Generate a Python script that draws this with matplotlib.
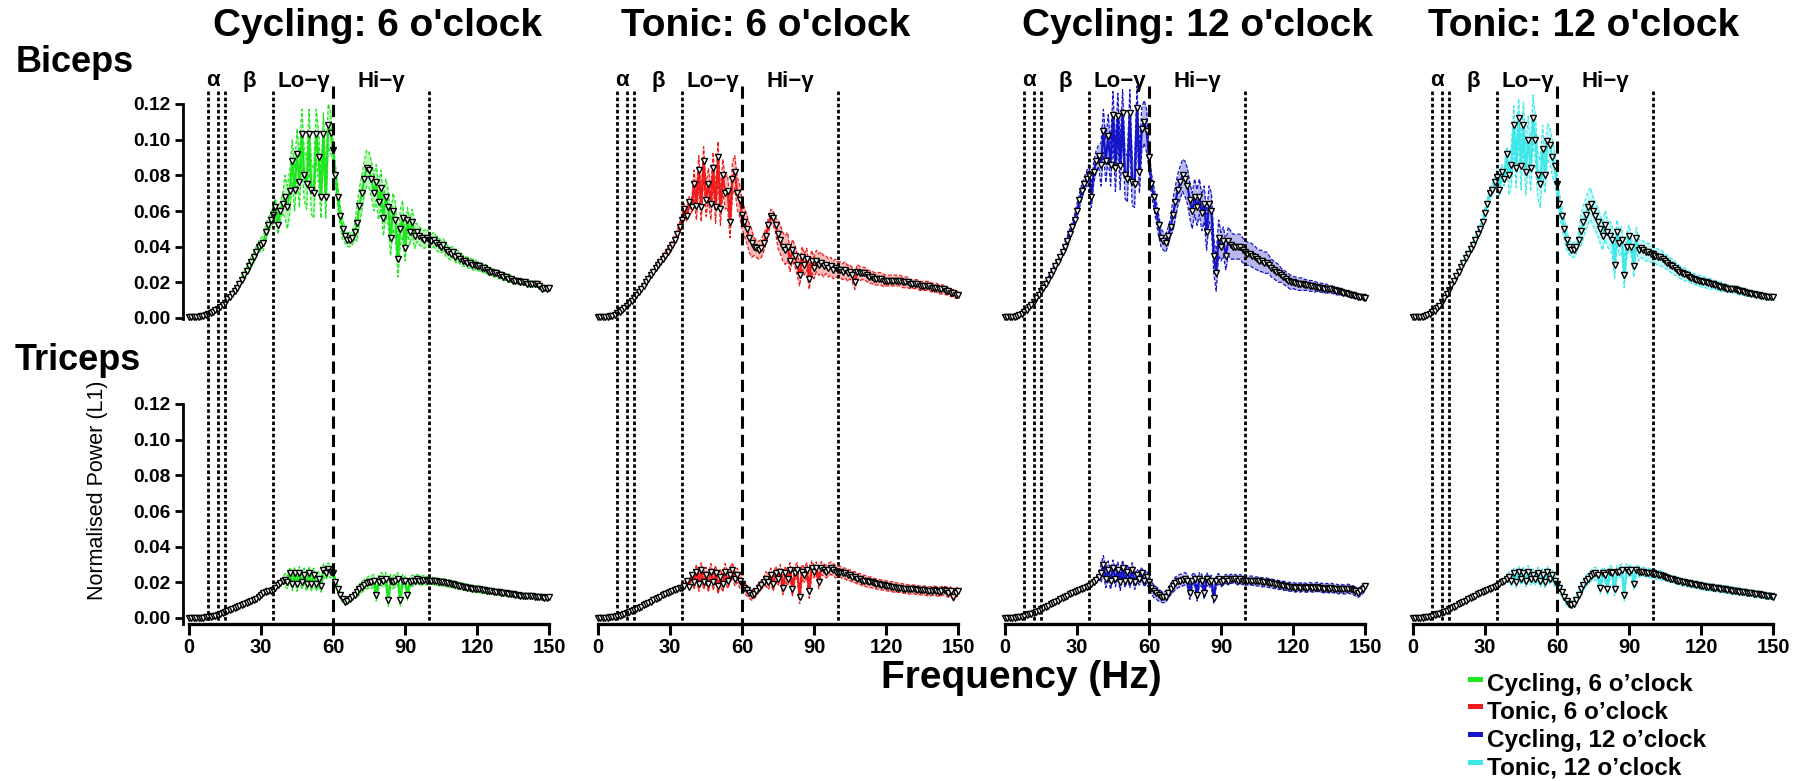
import numpy as np
import matplotlib
matplotlib.use("Agg")
import matplotlib.pyplot as plt
from matplotlib.lines import Line2D
from matplotlib.patches import Rectangle
from matplotlib.transforms import blended_transform_factory

plt.rcParams['font.family'] = ['Liberation Sans', 'DejaVu Sans']

# ---------------------------------------------------------------- data
freq_hz = np.arange(0, 151)          # 1 Hz bins, 0..150 Hz

conditions = ["Cycling: 6 o'clock", "Tonic: 6 o'clock",
              "Cycling: 12 o'clock", "Tonic: 12 o'clock"]
legend_labels = ["Cycling, 6 o\u2019clock", "Tonic, 6 o\u2019clock",
                 "Cycling, 12 o\u2019clock", "Tonic, 12 o\u2019clock"]
muscles = ["Biceps", "Triceps"]
colors = ['#1ee61e', '#ee1c1c', '#1515c8', '#3ee8e8']

band_lines_dotted = [8, 12, 15, 35, 100]
band_lines_dashed = [60]
band_names = ["\u03b1", "\u03b2", "Lo\u2212\u03b3", "Hi\u2212\u03b3"]
band_name_pos = [10, 25, 48, 80]

x_ticks = [0, 30, 60, 90, 120, 150]
y_ticks = [0.00, 0.02, 0.04, 0.06, 0.08, 0.10, 0.12]

# mean normalised power, x1e-3, one value per Hz (0..150)
biceps_cyc6 = [
    0.5, 0.5, 0.5, 0.6, 0.7, 0.9,
    1.2, 1.6, 2.2, 2.8, 3.5,   4.3, 5.2, 6.2, 7.3, 8.5,
    10.5, 12, 13.5, 15, 16.8,  19, 21.5, 24, 26.5, 29,
    31.5, 34, 37, 40, 41,      42, 48, 52, 55, 58,
    62, 52, 60, 64, 68,        62, 71, 88, 72, 92,
    76, 103, 80, 75, 103,      72, 70, 103, 90, 68,
    103, 68, 108, 104, 94,     80, 68, 57, 50, 46,
    44, 44, 45, 48, 53,        63, 70, 78, 84, 83,
    78, 70, 76, 65, 73,        56, 68, 62, 45, 60,
    55, 33, 50, 56, 39,        55, 48, 54, 46, 48,
    46, 45, 44, 45, 44,        43, 44, 42, 41, 40,
    41, 38, 37, 36, 37,        34, 35, 33, 32, 32,
    31, 31, 30, 30, 29,        29, 28, 28, 27, 26,
    26, 25, 25, 24, 24,        23, 23, 22, 22, 21,
    21, 21, 20, 20, 20,        19, 19, 19, 19, 19,
    18, 16, 17, 16, 17]
biceps_ton6 = [
    0.4, 0.4, 0.5, 0.6, 0.8, 1.0,
    1.4, 1.9, 2.6, 3.4, 4.4,   5.5, 6.8, 8.2, 9.8, 11.4,
    13, 14.7, 16.4, 18.2, 20,  22, 24, 26, 28, 30,
    31.5, 33, 35, 37, 39,      41, 44, 47, 51, 55,
    61, 57, 65, 62, 75,        63, 83, 62, 88, 66,
    75, 64, 84, 62, 90,        61, 80, 70, 71, 54,
    78, 82, 70, 66, 58,        54, 50, 45, 42, 40,
    39, 38, 39, 42, 46,        52, 57, 56, 52, 47,
    44, 40, 38, 40, 32,        38, 35, 30, 24, 34,
    30, 33, 22, 32, 28,        32, 30, 31, 29, 30,
    28, 29, 27, 28, 27,        27, 26, 27, 25, 26,
    24, 20, 26, 25, 25,        25, 24, 23, 23, 22,
    22, 22, 22, 21, 21,        21, 21, 21, 21, 21,
    21, 20, 20, 20, 19,        19, 19, 19, 18, 18,
    18, 18, 18, 17, 17,        17, 16, 16, 16, 15,
    15, 14, 14, 13, 13]
biceps_cyc12 = [
    0.3, 0.3, 0.4, 0.5, 0.7, 1.0,
    1.5, 2.2, 3.2, 4.5, 6,     7.5, 9, 11, 13, 15,
    17, 19, 21.5, 24, 26.5,    29, 31.5, 34, 37, 40,
    43, 47, 51, 55, 60,        66, 71, 75, 78, 80,
    68, 82, 88, 91, 86,        105, 88, 102, 86, 114,
    84, 113, 85, 115, 80,      78, 115, 76, 75, 118,
    82, 106, 110, 105, 90,     75, 68, 60, 52, 45,
    43, 42, 46, 51, 58,        65, 72, 76, 80, 78,
    74, 66, 60, 68, 62,        68, 59, 64, 48, 64,
    60, 35, 25, 45, 40,        43, 35, 43, 41, 40,
    40, 40, 40, 38, 37,        36, 36, 35, 34, 33,
    32, 32, 31, 31, 30,        28, 27, 26, 25, 24,
    23, 22, 21, 20, 20,        19.5, 19, 19, 19, 18.5,
    18.5, 18, 18, 17.5, 17.5,  17, 17, 16.5, 16.5, 16,
    16, 15.5, 15, 15, 14.5,    14, 14, 13.5, 13, 13,
    12.5, 12, 12, 11.5, 11]
biceps_ton12 = [
    0.3, 0.3, 0.4, 0.5, 0.7, 1.0,
    1.5, 2.2, 3.1, 4.2, 5.5,   7, 8.8, 11, 13.3, 15.8,
    18.5, 21, 23.5, 26, 28.5,  31, 33.5, 36, 38.5, 41,
    44, 47, 50, 54, 59,        64, 70, 72, 76, 79,
    72, 82, 78, 92, 80,        86, 108, 84, 112, 85,
    108, 82, 100, 84, 112,     100, 80, 75, 95, 80,
    99, 97, 90, 85, 75,        64, 57, 50, 44, 40,
    38, 38, 40, 44, 49,        54, 58, 62, 64, 60,
    57, 54, 50, 46, 52,        48, 46, 44, 30, 48,
    42, 44, 24, 40, 46,        40, 29, 45, 38, 39,
    38, 37, 37, 36, 36,        35, 34, 34, 33, 32,
    31, 30, 29, 28, 27,        26, 25, 24.5, 24, 23,
    22.5, 22, 21.5, 21, 20.5,  20, 20, 19.5, 19, 19,
    18.5, 18, 17.5, 17.5, 17,  16.5, 16.5, 16, 16, 15.5,
    15, 15, 14.5, 14, 14,      13.5, 13.5, 13, 13, 12.5,
    12.5, 12, 12, 11.5, 11.5]

triceps_cyc6 = [
    0, 0, 0, 0, 0.1, 0.1,
    0.2, 0.3, 0.5, 0.7, 1.0,   1.3, 1.7, 2.2, 2.7, 3.3,
    3.9, 4.5, 5.1, 5.7, 6.2,   6.8, 7.3, 7.8, 8.3, 8.9,
    9.5, 10, 10.8, 11.8, 12.8, 14, 14.6, 15, 15.3, 15.8,
    17, 18.5, 19.5, 21, 21.5,  20, 25, 19, 25, 19,
    25, 20, 24, 19, 25,        19, 24, 19, 22, 18,
    27, 25, 27.5, 26, 25,      20, 16.5, 13, 10.5, 9,
    9.5, 10.5, 11.5, 13, 14.5, 16, 17.5, 18.5, 19.5, 20,
    20, 21, 13, 20, 22,        21, 22, 10, 21, 20,
    21, 22, 10, 21, 21,        13, 20, 21, 21, 22,
    21, 21, 21.5, 21, 21,      21, 20.5, 20.5, 20, 20,
    20, 19.5, 19.5, 19, 19,    18.5, 18, 18, 17.5, 17.5,
    17, 17, 16.5, 16.5, 16,    16, 15.8, 15.6, 15.4, 15.2,
    15, 14.8, 14.6, 14.4, 14.2, 14, 13.8, 13.6, 13.4, 13.2,
    13, 12.8, 12.6, 12.5, 12.4, 12.3, 12.2, 12.1, 12, 11.9,
    11.8, 11.6, 11.4, 11.3, 11.5]
triceps_ton6 = [
    0, 0, 0.1, 0.1, 0.2, 0.3,
    0.5, 0.7, 1.0, 1.3, 1.7,   2.1, 2.6, 3.1, 3.7, 4.3,
    5, 5.7, 6.4, 7.1, 7.8,     8.5, 9.2, 9.9, 10.6, 11.3,
    12, 12.7, 13.4, 14.1, 14.8, 15.4, 15.8, 16.2, 16.6, 17,
    18, 21, 17.5, 24, 20,      26, 19, 27, 20, 24,
    19, 26, 20, 25, 18,        23, 19, 26, 21, 24,
    27, 22, 24, 21, 19,        17, 15.5, 14, 13, 13.5,
    15, 17, 18.5, 20, 22,      20, 24, 19, 25, 22,
    26, 17, 25, 22, 27,        16, 25, 27, 12, 26,
    24, 27, 15, 28, 26,        28, 20, 28, 27, 26,
    27, 28, 27, 26, 26,        26, 25, 25, 24, 24,
    23, 23, 22, 22, 21,        21, 20.5, 20, 20, 19.5,
    19, 19, 18.5, 18.5, 18,    18, 17.5, 17.5, 17, 17,
    17, 16.5, 16.5, 16, 16,    16, 16, 15.5, 15.5, 15.5,
    15.5, 15, 15, 15, 15.5,    15, 14.5, 15, 15.5, 15,
    14, 15, 12, 14, 15]
triceps_cyc12 = [
    0, 0, 0.1, 0.1, 0.2, 0.3,
    0.5, 0.8, 1.1, 1.5, 2,     2.5, 3, 3.6, 4.2, 4.9,
    5.6, 6.3, 7, 7.7, 8.4,     9.1, 9.8, 10.5, 11.2, 11.9,
    12.6, 13.2, 13.8, 14.4, 15, 15.6, 16.2, 16.8, 17.4, 18,
    19, 20, 21.5, 23, 25,      30, 22, 27, 21, 28,
    22, 27, 20, 28, 21,        26, 21, 27, 20, 24,
    22, 25, 21, 23, 20,        17, 15, 14, 13, 12,
    11.5, 12, 14, 16, 18,      19.5, 20.5, 21, 21.5, 22,
    21, 14, 21, 22, 13,        22, 21, 14, 22, 20,
    21, 11, 21, 22, 20,        21, 22, 21, 22, 22,
    22, 21, 22, 21, 21,        21, 21, 21, 20.5, 20.5,
    20.5, 20, 20, 20, 19.5,    19.5, 19, 19, 18.5, 18.5,
    18, 18, 17.5, 17.5, 17.5,  17, 17.5, 17, 17.5, 17,
    17, 17.5, 17, 17, 17.5,    17, 17, 16.5, 17, 16.5,
    17, 16.5, 16.5, 16, 16.5,  16, 16, 16.5, 16, 15.5,
    15, 14, 15, 16, 18]
triceps_ton12 = [
    0, 0, 0.1, 0.1, 0.2, 0.3,
    0.5, 0.8, 1.1, 1.5, 2,     2.5, 3, 3.6, 4.2, 4.9,
    5.6, 6.3, 7, 7.7, 8.4,     9.1, 9.8, 10.5, 11.2, 11.9,
    12.6, 13.2, 13.8, 14.4, 15, 15.6, 16.2, 16.8, 17.4, 18,
    19, 20, 21, 22, 23,        21, 25, 20, 26, 22,
    25, 21, 26, 22, 24,        22, 25, 21, 24, 20,
    26, 22, 24, 21, 19,        17, 14.5, 12, 9.5, 8,
    7.5, 8, 10, 13, 16,        18.5, 20.5, 22, 23.5, 24.5,
    25, 24, 17, 25, 24,        16, 26, 25, 16, 26,
    26, 27, 13, 27, 26,        27, 19, 27, 26, 26,
    26, 25.5, 25.5, 25, 25,    24.5, 24, 24, 23.5, 23,
    22.5, 22, 22, 21.5, 21,    20.5, 20, 20, 19.5, 19.5,
    19, 19, 18.5, 18.5, 18,    17.8, 17.6, 17.4, 17.2, 17,
    16.8, 16.6, 16.4, 16.2, 16, 15.8, 15.6, 15.4, 15.2, 15,
    14.8, 14.6, 14.4, 14.2, 14, 13.8, 13.6, 13.4, 13.2, 13,
    12.8, 12.6, 12.4, 12.2, 12]

# standard error, x1e-3, one value per 5 Hz bin (0-5, 5-10, ..., 145-150)
biceps_sem = [
    [0.3, 0.5, 1, 1.5, 2, 3, 4, 5, 12, 14, 14, 12, 6, 4, 10,
     10, 10, 10, 7, 5, 4, 3.5, 3, 3, 2.5, 2, 2, 1.5, 1.5, 1.5],
    [0.3, 0.5, 0.8, 1, 1.5, 2, 2.5, 3, 8, 9, 9, 9, 8, 5, 4,
     8, 6, 6, 6, 5, 4.5, 4, 3.5, 3.5, 3, 3, 2.5, 2.5, 2.5, 2],
    [0.3, 0.5, 1, 1.5, 2, 3, 4, 6, 12, 13, 13, 12, 6, 5, 9,
     10, 10, 10, 8, 7, 6.5, 6, 5, 4, 3.5, 3, 2.5, 2, 1.5, 1.5],
    [0.3, 0.5, 0.8, 1, 1.5, 2, 3, 4, 11, 13, 13, 10, 6, 4, 9,
     8, 8, 7, 6, 5, 4.5, 4, 3.5, 3, 3, 2.5, 2, 2, 1.5, 1.5],
]
triceps_sem = [
    [0.2, 0.2, 0.3, 0.5, 0.7, 1, 1.2, 1.5, 3.5, 4, 4, 3.5, 2, 1.5, 3,
     3.5, 3.5, 3.5, 3, 2.5, 2, 2, 2, 1.8, 1.8, 1.6, 1.5, 1.5, 1.4, 1.4],
    [0.2, 0.2, 0.3, 0.5, 0.7, 1, 1.2, 1.5, 4, 4.5, 4.5, 4, 3, 2.5, 4,
     4, 4, 4, 3.5, 3.5, 3, 3, 3, 2.8, 2.8, 2.6, 2.5, 2.5, 2.5, 2.5],
    [0.2, 0.2, 0.3, 0.5, 0.7, 1, 1.2, 1.5, 5, 4.5, 4, 3.5, 3.5, 3, 3.5,
     3.5, 3.5, 3, 2.5, 2.5, 2.5, 2.5, 2.5, 2.5, 2.5, 2.5, 2.5, 2.5, 2.5, 2.5],
    [0.2, 0.2, 0.3, 0.5, 0.7, 1, 1.2, 1.5, 3, 3.5, 3.5, 3, 2.5, 2, 3,
     3.5, 3.5, 3.5, 3, 2.5, 2.5, 2, 2, 2, 2, 2, 2, 1.8, 1.8, 1.8],
]

means = [[biceps_cyc6, biceps_ton6, biceps_cyc12, biceps_ton12],
         [triceps_cyc6, triceps_ton6, triceps_cyc12, triceps_ton12]]
sems = [biceps_sem, triceps_sem]

# ---------------------------------------------------------------- layout
W, H = 1796, 781
fig = plt.figure(figsize=(W / 100, H / 100), dpi=100)


def fx(px):
    return px / W


def fy(py):
    return 1 - py / H


col_x0 = [189, 598, 1005, 1413]     # pixel position of 0 Hz
col_w = 360
ppu = 214 / 0.12                    # pixels per unit of power
row_zero = [318, 618]               # pixel row of power = 0
row_ylim = [(-0.004, 0.14), (-0.00336, 0.125)]

axes = [[None] * 4, [None] * 4]
for r in range(2):
    y0, y1 = row_ylim[r]
    top_px = row_zero[r] - y1 * ppu
    bot_px = row_zero[r] - y0 * ppu
    for c in range(4):
        ax = fig.add_axes([fx(col_x0[c]), fy(bot_px), fx(col_w),
                           (bot_px - top_px) / H])
        ax.set_xlim(0, 150)
        ax.set_ylim(y0, y1)
        ax.patch.set_alpha(0)
        for s in ['top', 'right']:
            ax.spines[s].set_visible(False)
        if c == 0:
            ax.spines['left'].set_position(('outward', 4))
            ax.spines['left'].set_linewidth(2)
            ax.spines['left'].set_bounds(y0 if r == 1 else -0.0008, 0.12)
            ax.set_yticks(y_ticks)
            ax.set_yticklabels([f"{t:.2f}" for t in y_ticks],
                               fontsize=13.8, fontweight='bold')
            ax.tick_params(axis='y', length=6, width=2, pad=3)
        else:
            ax.spines['left'].set_visible(False)
            ax.set_yticks([])
        if r == 1:
            ax.spines['bottom'].set_linewidth(2.4)
            ax.spines['bottom'].set_bounds(0, 150)
            ax.set_xticks(x_ticks)
            ax.set_xticklabels([str(t) for t in x_ticks],
                               fontsize=14.5, fontweight='bold')
            ax.tick_params(axis='x', length=8, width=2.2, pad=2)
        else:
            ax.spines['bottom'].set_visible(False)
            ax.set_xticks([])
        axes[r][c] = ax

# ---------------------------------------------------------------- spectra
bin_index = np.minimum(freq_hz // 5, 29)
for r in range(2):
    for c in range(4):
        ax = axes[r][c]
        m = np.asarray(means[r][c], dtype=float) / 1000
        s = np.asarray(sems[r][c], dtype=float)[bin_index] / 1000
        col = colors[c]
        ax.fill_between(freq_hz, m - s, m + s, color=col, alpha=0.3,
                        lw=0, zorder=1)
        ax.plot(freq_hz, m + s, color=col, lw=0.9, ls=(0, (3, 1.5)),
                zorder=2, clip_on=False)
        ax.plot(freq_hz, m - s, color=col, lw=0.9, ls=(0, (3, 1.5)),
                zorder=2, clip_on=False)
        ax.plot(freq_hz, m, color=col, lw=1.6, zorder=3, clip_on=False)
        ax.plot(freq_hz, m, ls='none', marker='v', ms=4.8, mfc='white',
                mec='black', mew=1.0, zorder=4, clip_on=False)

# ---------------------------------------------------------------- band edges
for c in range(4):
    tr = blended_transform_factory(axes[1][c].transData, fig.transFigure)
    for f in band_lines_dotted:
        fig.add_artist(Line2D([f, f], [fy(91), fy(624)], transform=tr,
                              color='black', lw=2.0, ls=(0, (1.3, 0.9)),
                              zorder=5))
    for f in band_lines_dashed:
        fig.add_artist(Line2D([f, f], [fy(86), fy(624)], transform=tr,
                              color='black', lw=2.2, ls=(0, (4, 2)),
                              zorder=5))
    for name, f in zip(band_names, band_name_pos):
        fig.text(f, fy(81), name, transform=tr, ha='center', va='center',
                 fontsize=16, fontweight='bold')

# ---------------------------------------------------------------- text
title_x = [378, 766, 1197, 1584]
for c in range(4):
    fig.text(fx(title_x[c]), fy(26), conditions[c], ha='center',
             va='center', fontsize=28, fontweight='bold')

fig.text(fx(16), fy(63), muscles[0], ha='left', va='center',
         fontsize=26, fontweight='bold')
fig.text(fx(15), fy(360), muscles[1], ha='left', va='center',
         fontsize=26, fontweight='bold')

fig.text(fx(97), fy(490), "Normalised Power (L1)", rotation=90,
         ha='center', va='center', fontsize=15.5)
fig.text(fx(1021), fy(678), "Frequency (Hz)", ha='center', va='center',
         fontsize=28, fontweight='bold')

# ---------------------------------------------------------------- legend
leg_y = [685, 712, 740, 768]
for c in range(4):
    fig.add_artist(Rectangle((fx(1468), fy(leg_y[c] - 3)), fx(15), 5 / H,
                             transform=fig.transFigure, color=colors[c],
                             lw=0))
    fig.text(fx(1487), fy(leg_y[c]), legend_labels[c], ha='left',
             va='center', fontsize=17.5, fontweight='bold')

fig.savefig("out.png", dpi=100)
